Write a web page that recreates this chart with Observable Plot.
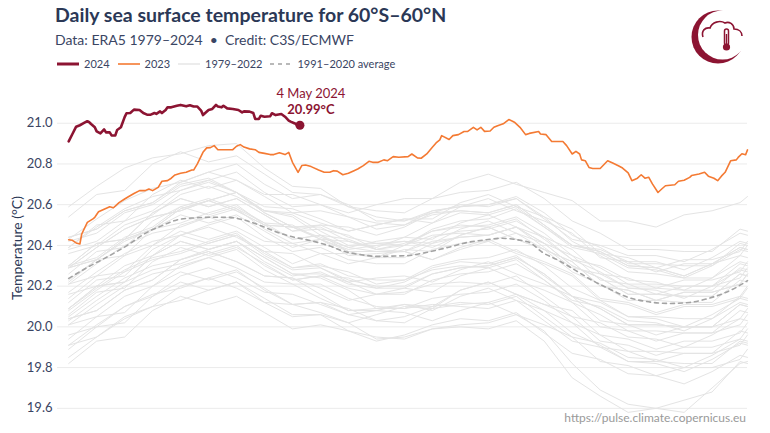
<!DOCTYPE html>
<html><head><meta charset="utf-8">
<script src="https://cdn.jsdelivr.net/npm/d3@7"></script>
<script src="https://cdn.jsdelivr.net/npm/@observablehq/plot@0.6"></script>
<style>
body{margin:0;background:#fff;font-family:Lato,"Noto Sans",sans-serif;}
#wrap{position:relative;width:770px;height:433px;overflow:hidden;background:#fff;}
#head{position:relative;height:76px;}
.title{position:absolute;left:55px;top:3.5px;font-size:19.5px;line-height:22px;font-weight:700;color:#2b3856;white-space:nowrap;}
.sub{position:absolute;left:55px;top:31px;font-size:14px;line-height:17px;color:#3a4563;white-space:nowrap;}
.legend{position:absolute;left:57px;top:56px;display:flex;align-items:center;font-size:11px;line-height:16px;color:#3a4563;white-space:nowrap;}
.legend .it{display:flex;align-items:center;margin-right:8px;}
.legend svg{margin-right:5px;}
.ylab{position:absolute;left:16px;top:248px;transform:translate(-50%,-50%) rotate(-90deg);font-size:14px;color:#2b3856;white-space:nowrap;}
.foot{position:absolute;right:24px;top:410px;font-size:12px;line-height:16px;color:#9a9a9a;}
#logo{position:absolute;left:0;top:0;}
#chart{position:absolute;left:0;top:76px;}
</style></head>
<body>
<div id="wrap">
  <div id="head">
    <div class="title">Daily sea surface temperature for 60°S–60°N</div>
    <div class="sub">Data: ERA5 1979–2024 &nbsp;•&nbsp; Credit: C3S/ECMWF</div>
    <div class="legend" id="legend"></div>
  </div>
  <svg id="logo" width="770" height="76">
    <circle cx="718" cy="37" r="26.5" fill="#8c1432"/>
    <circle cx="722.5" cy="35" r="24.5" fill="#fff"/>
    <path d="M703,37 C701,31 705,27 710,28 C712,22 720,20 725,23 C729,21 734,24 734,29 C739,29 742,32 742,36" fill="none" stroke="#8c1432" stroke-width="1.6"/>
    <rect x="724.5" y="29" width="4" height="16" rx="2" fill="#fff" stroke="#8c1432" stroke-width="1.5"/>
    <circle cx="726.5" cy="47" r="3.6" fill="#8c1432"/>
    <rect x="725.8" y="34" width="1.4" height="11" fill="#8c1432"/>
  </svg>
  <div id="chart"></div>
  <div class="ylab">Temperature (°C)</div>
  <div class="foot">https://pulse.climate.copernicus.eu</div>
</div>
<script>
// ---- series: 2024 (day of year index, °C) ----
const days2024 = [0,2,4,6,8,10,11,12,14,15,17,19,20,22,23,25,26,28,30,31,33,35,38,40,42,44,46,47,49,50,52,53,55,58,60,63,65,67,69,71,72,75,77,79,80,82,83,85,88,91,93,94,97,99,100,102,103,105,108,109,111,114,116,118,119,121,123,124];
const vals2024 = [20.911,20.947,20.983,20.99,21.0,21.01,21.005,20.996,20.98,20.96,20.95,20.97,20.955,20.955,20.94,20.94,20.967,20.98,21.03,21.049,21.05,21.067,21.065,21.05,21.042,21.042,21.05,21.046,21.058,21.05,21.065,21.078,21.078,21.086,21.09,21.083,21.088,21.082,21.082,21.062,21.04,21.065,21.07,21.09,21.082,21.078,21.086,21.073,21.07,21.065,21.053,21.058,21.057,21.05,21.021,21.021,21.037,21.032,21.034,21.049,21.04,21.045,21.032,21.013,21.008,21.0,20.99,20.99];
// ---- series: 2023 ----
const days2023 = [0,2,4,6,7,10,13,14,16,19,22,24,27,30,32,35,38,41,43,45,48,50,53,55,57,60,63,66,67,69,72,74,76,78,80,83,88,90,92,94,97,100,102,105,108,110,113,116,118,120,123,125,127,130,134,137,140,142,144,147,150,153,155,158,161,163,166,169,171,174,177,182,184,187,189,192,195,197,199,200,204,206,209,212,214,217,219,221,223,226,228,230,233,236,238,239,242,245,247,252,253,256,259,265,267,270,272,274,275,277,279,281,285,289,292,295,297,300,302,305,307,309,311,313,316,318,320,325,327,330,333,334,338,341,343,346,348,350,352,355,358,359,361,363,364];
const vals2023 = [20.428,20.425,20.412,20.407,20.456,20.513,20.53,20.538,20.565,20.578,20.59,20.585,20.61,20.628,20.639,20.655,20.669,20.669,20.677,20.669,20.685,20.715,20.718,20.73,20.746,20.754,20.759,20.77,20.77,20.8,20.857,20.879,20.88,20.89,20.87,20.87,20.87,20.887,20.895,20.883,20.874,20.87,20.857,20.852,20.846,20.846,20.855,20.846,20.857,20.808,20.759,20.792,20.795,20.787,20.77,20.759,20.759,20.767,20.765,20.747,20.754,20.767,20.775,20.792,20.813,20.808,20.808,20.82,20.816,20.836,20.833,20.836,20.849,20.83,20.828,20.849,20.882,20.903,20.918,20.939,20.92,20.939,20.944,20.959,20.96,20.98,20.967,20.98,20.96,20.962,20.98,20.988,20.997,21.018,21.01,21.005,20.98,20.944,20.95,20.959,20.947,20.944,20.91,20.91,20.89,20.849,20.862,20.849,20.82,20.816,20.783,20.778,20.778,20.816,20.803,20.79,20.78,20.756,20.718,20.73,20.747,20.73,20.735,20.702,20.66,20.677,20.693,20.698,20.715,20.72,20.734,20.743,20.751,20.759,20.74,20.73,20.718,20.74,20.759,20.816,20.82,20.832,20.85,20.845,20.869];
// ---- series: 1991–2020 average ----
const daysAvg = [0,10,22,31,42,50,58,67,76,85,94,103,112,121,130,139,148,157,166,175,182,187,196,205,214,223,232,241,247,254,263,272,281,290,300,311,322,333,342,351,358,364];
const valsAvg = [20.238,20.292,20.35,20.398,20.464,20.497,20.525,20.535,20.538,20.538,20.525,20.497,20.464,20.44,20.423,20.4,20.37,20.354,20.346,20.348,20.35,20.357,20.374,20.394,20.415,20.427,20.435,20.427,20.415,20.366,20.325,20.276,20.227,20.186,20.145,20.123,20.115,20.12,20.137,20.164,20.194,20.227];
// ---- series: 1979–2022 (sampled every 15 days) ----
const pastDays = [0,15,30,45,60,75,90,105,120,135,150,165,180,195,210,225,240,255,270,285,300,315,330,345,360,364];
const pastYears = [1979,1980,1981,1982,1983,1984,1985,1986,1987,1988,1989,1990,1991,1992,1993,1994,1995,1996,1997,1998,1999,2000,2001,2002,2003,2004,2005,2006,2007,2008,2009,2010,2011,2012,2013,2014,2015,2016,2017,2018,2019,2020,2021,2022];
const pastValues = [
[19.94,20.05,20.07,20.20,20.27,20.23,20.27,20.19,20.11,20.12,20.09,20.03,20.05,20.10,20.12,20.11,20.15,20.05,19.95,19.92,19.85,19.84,19.80,19.86,19.94,19.93],
[20.01,20.05,20.15,20.20,20.30,20.34,20.29,20.22,20.21,20.14,20.08,20.09,20.11,20.08,20.15,20.19,20.13,20.08,20.02,19.90,19.88,19.83,19.87,19.87,19.91,19.96],
[19.91,20.01,20.10,20.16,20.19,20.24,20.28,20.18,20.11,20.12,20.06,20.03,20.02,20.09,20.11,20.12,20.16,20.08,19.97,19.91,19.83,19.83,19.82,19.82,19.93,19.92],
[19.89,20.00,20.02,20.15,20.22,20.18,20.22,20.14,20.06,20.06,20.02,19.94,19.95,19.99,20.00,19.99,20.03,19.93,19.75,19.66,19.58,19.60,19.58,19.70,19.82,19.83],
[20.04,20.08,20.18,20.23,20.33,20.37,20.32,20.25,20.24,20.16,20.08,20.08,20.07,20.03,20.08,20.12,20.06,20.01,19.95,19.83,19.81,19.76,19.80,19.80,19.84,19.89],
[19.85,19.95,20.04,20.10,20.13,20.18,20.22,20.12,20.05,20.06,19.98,19.95,19.94,19.99,20.01,20.02,20.06,19.98,19.82,19.69,19.62,19.60,19.64,19.68,19.83,19.82],
[19.82,19.93,19.95,20.08,20.15,20.11,20.15,20.07,19.99,20.01,19.98,19.93,19.96,20.01,20.04,20.03,20.07,19.97,19.87,19.84,19.77,19.76,19.72,19.78,19.86,19.85],
[19.91,19.95,20.05,20.10,20.20,20.24,20.19,20.12,20.11,20.07,20.02,20.06,20.10,20.09,20.18,20.22,20.16,20.11,20.05,19.93,19.91,19.86,19.90,19.90,19.94,19.99],
[20.05,20.15,20.24,20.30,20.33,20.38,20.42,20.32,20.25,20.27,20.21,20.19,20.19,20.26,20.29,20.30,20.34,20.26,20.15,20.09,20.01,20.01,20.00,20.00,20.11,20.10],
[20.09,20.20,20.22,20.35,20.42,20.38,20.42,20.34,20.26,20.24,20.18,20.09,20.09,20.11,20.10,20.09,20.13,20.03,19.93,19.90,19.83,19.82,19.78,19.84,19.92,19.91],
[19.96,20.00,20.10,20.15,20.25,20.29,20.24,20.17,20.16,20.11,20.06,20.08,20.11,20.10,20.18,20.22,20.16,20.11,20.08,19.96,19.94,19.89,19.93,19.93,19.97,20.02],
[20.03,20.13,20.22,20.28,20.31,20.36,20.40,20.30,20.23,20.25,20.19,20.16,20.16,20.23,20.26,20.27,20.31,20.23,20.12,20.06,19.98,19.98,19.97,19.97,20.08,20.07],
[20.09,20.20,20.22,20.35,20.42,20.38,20.42,20.34,20.26,20.26,20.22,20.16,20.17,20.21,20.22,20.21,20.25,20.15,20.05,20.02,19.95,19.94,19.90,19.96,20.04,20.03],
[20.01,20.11,20.20,20.26,20.29,20.34,20.38,20.28,20.21,20.21,20.14,20.10,20.09,20.14,20.16,20.17,20.21,20.13,20.02,19.96,19.88,19.88,19.87,19.87,19.98,19.97],
[20.04,20.08,20.18,20.23,20.33,20.37,20.32,20.25,20.24,20.19,20.13,20.16,20.19,20.17,20.25,20.29,20.23,20.18,20.12,20.00,19.98,19.93,19.97,19.97,20.01,20.06],
[20.06,20.17,20.19,20.32,20.39,20.35,20.39,20.31,20.23,20.25,20.24,20.19,20.22,20.29,20.32,20.31,20.35,20.25,20.15,20.12,20.05,20.04,20.00,20.06,20.14,20.13],
[20.16,20.20,20.30,20.35,20.45,20.49,20.44,20.37,20.36,20.29,20.22,20.24,20.25,20.22,20.28,20.32,20.26,20.21,20.15,20.03,20.01,19.96,20.00,20.00,20.04,20.09],
[20.08,20.18,20.27,20.33,20.36,20.41,20.45,20.35,20.28,20.29,20.23,20.20,20.20,20.26,20.29,20.30,20.34,20.26,20.15,20.09,20.01,20.01,20.00,20.00,20.11,20.10],
[20.14,20.25,20.27,20.40,20.47,20.43,20.47,20.39,20.31,20.36,20.36,20.34,20.40,20.48,20.52,20.53,20.58,20.49,20.40,20.38,20.32,20.32,20.28,20.34,20.42,20.41],
[20.44,20.48,20.57,20.61,20.70,20.73,20.66,20.57,20.54,20.45,20.37,20.37,20.37,20.33,20.38,20.42,20.36,20.31,20.25,20.13,20.11,20.06,20.10,20.10,20.14,20.19],
[20.12,20.23,20.25,20.38,20.45,20.41,20.45,20.37,20.29,20.30,20.27,20.21,20.23,20.28,20.30,20.29,20.33,20.23,20.13,20.10,20.03,20.02,19.98,20.04,20.12,20.11],
[20.09,20.19,20.28,20.34,20.37,20.42,20.46,20.36,20.29,20.31,20.25,20.23,20.23,20.30,20.33,20.34,20.38,20.30,20.19,20.13,20.05,20.05,20.04,20.04,20.15,20.14],
[20.21,20.25,20.35,20.40,20.50,20.54,20.49,20.42,20.41,20.36,20.31,20.34,20.38,20.37,20.45,20.49,20.43,20.38,20.32,20.20,20.18,20.13,20.17,20.17,20.21,20.26],
[20.23,20.33,20.42,20.48,20.51,20.56,20.60,20.50,20.43,20.45,20.39,20.37,20.37,20.44,20.47,20.48,20.52,20.44,20.33,20.27,20.19,20.19,20.18,20.18,20.29,20.28],
[20.30,20.41,20.43,20.56,20.63,20.59,20.63,20.55,20.47,20.48,20.45,20.38,20.40,20.45,20.46,20.45,20.49,20.39,20.29,20.26,20.19,20.18,20.14,20.20,20.28,20.27],
[20.29,20.33,20.43,20.48,20.58,20.62,20.57,20.50,20.49,20.43,20.38,20.40,20.42,20.41,20.48,20.52,20.46,20.41,20.35,20.23,20.21,20.16,20.20,20.20,20.24,20.29],
[20.29,20.39,20.48,20.54,20.57,20.62,20.66,20.56,20.49,20.49,20.42,20.38,20.37,20.42,20.44,20.45,20.49,20.41,20.30,20.24,20.16,20.16,20.15,20.15,20.26,20.25],
[20.26,20.37,20.39,20.52,20.59,20.55,20.59,20.51,20.43,20.45,20.43,20.38,20.41,20.47,20.50,20.49,20.53,20.43,20.33,20.30,20.23,20.22,20.18,20.24,20.32,20.31],
[20.30,20.34,20.44,20.49,20.59,20.63,20.58,20.51,20.50,20.43,20.35,20.36,20.37,20.33,20.39,20.43,20.37,20.32,20.26,20.14,20.12,20.07,20.11,20.11,20.15,20.20],
[20.17,20.27,20.36,20.42,20.45,20.50,20.54,20.44,20.37,20.39,20.33,20.31,20.31,20.38,20.41,20.42,20.46,20.38,20.27,20.21,20.13,20.13,20.12,20.12,20.23,20.22],
[20.22,20.33,20.35,20.48,20.55,20.51,20.55,20.47,20.39,20.43,20.42,20.39,20.44,20.51,20.56,20.55,20.59,20.49,20.39,20.36,20.29,20.28,20.24,20.30,20.38,20.37],
[20.42,20.46,20.56,20.60,20.69,20.72,20.66,20.57,20.55,20.47,20.40,20.41,20.42,20.39,20.45,20.49,20.43,20.38,20.32,20.20,20.18,20.13,20.17,20.17,20.21,20.26],
[20.21,20.31,20.40,20.46,20.49,20.54,20.58,20.48,20.41,20.43,20.37,20.34,20.34,20.41,20.44,20.45,20.49,20.41,20.30,20.24,20.16,20.16,20.15,20.15,20.26,20.25],
[20.29,20.33,20.43,20.48,20.58,20.62,20.57,20.50,20.49,20.44,20.39,20.42,20.44,20.43,20.51,20.55,20.49,20.44,20.38,20.26,20.24,20.19,20.23,20.23,20.27,20.32],
[20.29,20.39,20.48,20.54,20.57,20.62,20.66,20.56,20.49,20.50,20.44,20.41,20.40,20.47,20.49,20.50,20.54,20.46,20.35,20.29,20.21,20.21,20.20,20.20,20.31,20.30],
[20.30,20.41,20.43,20.56,20.63,20.59,20.63,20.55,20.47,20.50,20.49,20.45,20.49,20.56,20.60,20.59,20.63,20.53,20.43,20.40,20.35,20.35,20.32,20.38,20.46,20.45],
[20.44,20.48,20.57,20.61,20.71,20.76,20.72,20.65,20.65,20.60,20.56,20.60,20.63,20.63,20.71,20.75,20.70,20.66,20.62,20.52,20.52,20.49,20.55,20.57,20.61,20.64],
[20.59,20.69,20.78,20.83,20.85,20.89,20.90,20.78,20.69,20.68,20.59,20.54,20.52,20.57,20.59,20.60,20.63,20.54,20.42,20.35,20.27,20.26,20.24,20.24,20.35,20.34],
[20.39,20.50,20.52,20.65,20.72,20.68,20.72,20.64,20.56,20.57,20.54,20.48,20.50,20.55,20.57,20.56,20.60,20.50,20.40,20.37,20.30,20.29,20.25,20.31,20.39,20.38],
[20.38,20.42,20.52,20.57,20.67,20.71,20.66,20.59,20.58,20.53,20.47,20.50,20.53,20.51,20.59,20.63,20.57,20.52,20.46,20.34,20.32,20.27,20.31,20.31,20.35,20.40],
[20.43,20.53,20.62,20.68,20.71,20.76,20.80,20.70,20.63,20.65,20.59,20.57,20.56,20.63,20.66,20.67,20.71,20.63,20.52,20.46,20.38,20.38,20.37,20.37,20.48,20.47],
[20.54,20.65,20.67,20.80,20.86,20.81,20.84,20.75,20.66,20.65,20.60,20.52,20.52,20.56,20.57,20.56,20.60,20.50,20.40,20.37,20.30,20.29,20.25,20.31,20.39,20.38],
[20.36,20.40,20.50,20.55,20.65,20.69,20.64,20.57,20.56,20.51,20.47,20.50,20.53,20.53,20.61,20.65,20.59,20.54,20.48,20.36,20.34,20.29,20.33,20.33,20.37,20.42],
[20.39,20.49,20.58,20.64,20.67,20.72,20.76,20.66,20.59,20.60,20.54,20.51,20.50,20.57,20.59,20.60,20.64,20.56,20.45,20.39,20.31,20.31,20.30,20.30,20.41,20.40]
];
const yTicks = [19.6,19.8,20.0,20.2,20.4,20.6,20.8,21.0];
const lastLabelDate = "4 May 2024";
const lastLabelValue = "20.99°C";

const C24 = "#8c1432", C23 = "#f47a33", CPAST = "#e4e4e4", CAVG = "#a3a3a3";

// legend
const legendItems = [
  {label:"2024", color:C24, w:3, dash:null},
  {label:"2023", color:C23, w:1.6, dash:null},
  {label:"1979–2022", color:"#e8e8e8", w:1.6, dash:null},
  {label:"1991–2020 average", color:CAVG, w:1.6, dash:"4,4"}
];
const lg = document.getElementById("legend");
for (const it of legendItems) {
  const d = document.createElement("div"); d.className = "it";
  d.innerHTML = `<svg width="22" height="6"><line x1="0" x2="22" y1="3" y2="3" stroke="${it.color}" stroke-width="${it.w}" ${it.dash?`stroke-dasharray="${it.dash}"`:""}/></svg><span>${it.label}</span>`;
  lg.appendChild(d);
}

const s2024 = days2024.map((d,i)=>({day:d, v:vals2024[i]}));
const s2023 = days2023.map((d,i)=>({day:d, v:vals2023[i]}));
const sAvg = daysAvg.map((d,i)=>({day:d, v:valsAvg[i]}));
const sPast = pastYears.flatMap((yr,i)=>pastDays.map((d,j)=>({year:yr, day:d, v:pastValues[i][j]})));
const last = s2024[s2024.length-1];

const chart = Plot.plot({
  width: 770, height: 357,
  marginLeft: 57, marginRight: 23, marginTop: 6, marginBottom: 15,
  style: {fontFamily: "Lato, 'Noto Sans', sans-serif", fontSize: "13px", color: "#3a4563", background: "transparent"},
  x: {domain: [-6, 364], axis: null},
  y: {domain: [19.55, 21.2], ticks: yTicks, tickFormat: d3.format(".1f"), tickSize: 0, tickPadding: 5, label: null},
  marks: [
    Plot.ruleY(yTicks, {stroke: "#ebebeb", strokeWidth: 1}),
    Plot.line(sPast, {x: "day", y: "v", z: "year", stroke: CPAST, strokeWidth: 1}),
    Plot.line(sAvg, {x: "day", y: "v", stroke: CAVG, strokeWidth: 1.6, strokeDasharray: "4,4", curve: "monotone-x"}),
    Plot.line(s2023, {x: "day", y: "v", stroke: C23, strokeWidth: 1.6}),
    Plot.line(s2024, {x: "day", y: "v", stroke: C24, strokeWidth: 2.6}),
    Plot.dot([last], {x: "day", y: "v", r: 4.5, fill: C24}),
    Plot.text([last], {x: "day", y: "v", text: () => lastLabelDate, dx: 11, dy: -31, fill: C24, fontSize: 13}),
    Plot.text([last], {x: "day", y: "v", text: () => lastLabelValue, dx: 11, dy: -15, fill: C24, fontSize: 13, fontWeight: "bold"})
  ]
});
document.getElementById("chart").appendChild(chart);
</script>
</body></html>
